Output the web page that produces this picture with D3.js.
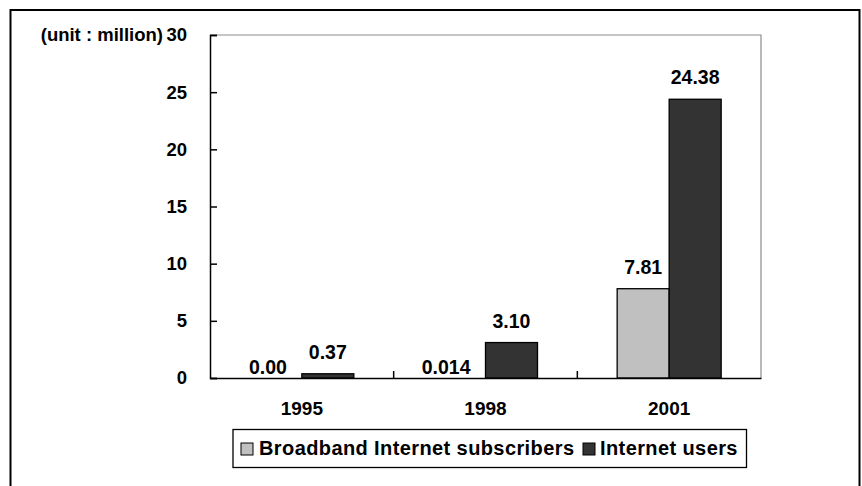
<!DOCTYPE html>
<html>
<head>
<meta charset="utf-8">
<script src="https://cdn.jsdelivr.net/npm/d3@7/dist/d3.min.js"></script>
<style>
  html, body { margin: 0; padding: 0; background: #fff; }
  svg text { font-family: "Liberation Sans", Arial, sans-serif; font-weight: bold; fill: #000; }
</style>
</head>
<body>
<svg id="chart" width="862" height="486"></svg>
<script>
// ---- data ----
const categories = ["1995", "1998", "2001"];
const seriesNames = ["Broadband Internet subscribers", "Internet users"];
const broadband = [0.00, 0.014, 7.81];
const internetUsers = [0.37, 3.10, 24.38];
const broadbandLabels = ["0.00", "0.014", "7.81"];
const internetLabels = ["0.37", "3.10", "24.38"];
const yTicks = [0, 5, 10, 15, 20, 25, 30];
const unitLabel = "(unit : million)";
const seriesColors = ["#c0c0c0", "#333333"];

// ---- layout ----
const svg = d3.select("#chart");
const plot = { left: 210, right: 761, top: 35, bottom: 378 };

// outer frame (bottom edge is outside the picture)
svg.append("rect")
  .attr("x", 10.5).attr("y", 10).attr("width", 849).attr("height", 500)
  .attr("fill", "none").attr("stroke", "#000").attr("stroke-width", 2);

const x = d3.scaleBand().domain(categories).range([plot.left, plot.right]).padding(0);
const xs = d3.scaleBand().domain(seriesNames).range([0, x.bandwidth()])
  .paddingInner(0).paddingOuter(0.766);
const y = d3.scaleLinear().domain([0, 30]).range([plot.bottom, plot.top]);

// plot area border: top & right grey
svg.append("path")
  .attr("d", `M${plot.left},${plot.top}H${plot.right}V${plot.bottom}`)
  .attr("fill", "none").attr("stroke", "#8c8c8c").attr("stroke-width", 1.2);

// bars
const rows = categories.map((c, i) => ({
  cat: c,
  vals: [
    { s: seriesNames[0], v: broadband[i], label: broadbandLabels[i], color: seriesColors[0] },
    { s: seriesNames[1], v: internetUsers[i], label: internetLabels[i], color: seriesColors[1] }
  ]
}));

const g = svg.append("g");
rows.forEach(r => {
  r.vals.forEach(d => {
    const bx = x(r.cat) + xs(d.s);
    const bw = xs.bandwidth();
    if (d.v > 0.05) {
      g.append("rect")
        .attr("x", bx).attr("y", y(d.v))
        .attr("width", bw).attr("height", y(0) - y(d.v))
        .attr("fill", d.color).attr("stroke", "#000").attr("stroke-width", 1.3);
    }
    const t = g.append("text").text(d.label).attr("font-size", 19.5);
    if (d.v < 0.1 && d.s === seriesNames[0]) {
      t.attr("x", bx + bw - 15).attr("y", y(0) - 4).attr("text-anchor", "end");
    } else {
      t.attr("x", bx + bw / 2).attr("y", y(d.v) - 15).attr("text-anchor", "middle");
    }
  });
});

// y axis
const yAxis = d3.axisLeft(y).tickValues(yTicks).tickSize(-7).tickPadding(23).tickFormat(d3.format("d"));
const ya = svg.append("g").attr("transform", `translate(${plot.left},0)`).call(yAxis);
ya.select(".domain").attr("stroke", "#000").attr("stroke-width", 1.5);
ya.selectAll(".tick line").attr("stroke", "#000").attr("stroke-width", 1.5);
ya.selectAll(".tick text").attr("font-size", 18.5).attr("font-family", "Liberation Sans, Arial, sans-serif")
  .attr("font-weight", "bold").attr("fill", "#000");

// x axis
const xa = svg.append("g").attr("transform", `translate(0,${plot.bottom})`)
  .call(d3.axisBottom(x).tickSize(0).tickPadding(24));
xa.select(".domain").attr("stroke", "#000").attr("stroke-width", 1.5);
xa.selectAll(".tick text").attr("font-size", 19).attr("font-family", "Liberation Sans, Arial, sans-serif")
  .attr("font-weight", "bold").attr("fill", "#000").attr("dy", "0.71em");
// tick marks between categories
const bounds = categories.slice(1).map(c => x(c));
svg.append("g").selectAll("line").data(bounds).join("line")
  .attr("x1", d => d).attr("x2", d => d)
  .attr("y1", plot.bottom).attr("y2", plot.bottom - 7)
  .attr("stroke", "#000").attr("stroke-width", 1.5);

// unit label
svg.append("text").text(unitLabel)
  .attr("x", 163).attr("y", y(30)).attr("dy", "0.35em")
  .attr("text-anchor", "end").attr("font-size", 18.5);

// legend
const leg = svg.append("g");
leg.append("rect").attr("x", 233).attr("y", 429.5).attr("width", 513.5).attr("height", 38)
  .attr("fill", "#fff").attr("stroke", "#000").attr("stroke-width", 1.3);
const legPos = [{ sx: 241, tx: 259 }, { sx: 583, tx: 600 }];
seriesNames.forEach((s, i) => {
  leg.append("rect").attr("x", legPos[i].sx).attr("y", 443).attr("width", 12).attr("height", 12)
    .attr("fill", seriesColors[i]).attr("stroke", "#000").attr("stroke-width", 1);
  leg.append("text").text(s).attr("x", legPos[i].tx).attr("y", 455)
    .attr("font-size", 20).attr("letter-spacing", 0.4);
});
</script>
</body>
</html>
